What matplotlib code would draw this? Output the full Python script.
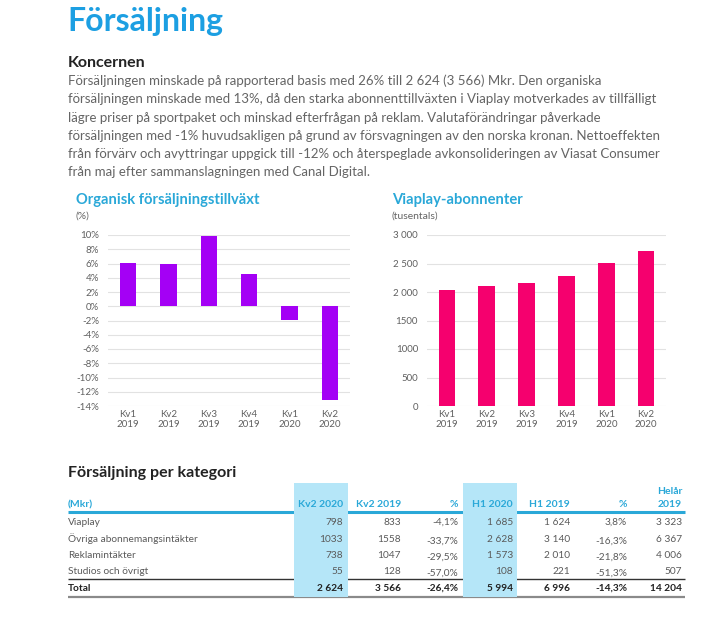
import matplotlib
matplotlib.use("Agg")
import matplotlib.pyplot as plt

plt.rcParams['font.family'] = ['Lato', 'DejaVu Sans']

# ---------------- data ----------------
quarters = ["Kv1\n2019", "Kv2\n2019", "Kv3\n2019", "Kv4\n2019", "Kv1\n2020", "Kv2\n2020"]
organic_growth = [6.1, 5.9, 9.8, 4.5, -1.9, -13.1]
growth_ticks = [-14, -12, -10, -8, -6, -4, -2, 0, 2, 4, 6, 8, 10]
subscribers = [2035, 2110, 2150, 2275, 2510, 2715]
sub_ticks = [0, 500, 1000, 1500, 2000, 2500, 3000]
sub_tick_labels = ["0", "500", "1000", "1500", "2 000", "2 500", "3 000"]

paragraph = [
    "Försäljningen minskade på rapporterad basis med 26% till 2 624 (3 566) Mkr. Den organiska",
    "försäljningen minskade med 13%, då den starka abonnenttillväxten i Viaplay motverkades av tillfälligt",
    "lägre priser på sportpaket och minskad efterfrågan på reklam. Valutaförändringar påverkade",
    "försäljningen med -1% huvudsakligen på grund av försvagningen av den norska kronan. Nettoeffekten",
    "från förvärv och avyttringar uppgick till -12% och återspeglade avkonsolideringen av Viasat Consumer",
    "från maj efter sammanslagningen med Canal Digital.",
]

row_labels = ["Viaplay", "Övriga abonnemangsintäkter", "Reklamintäkter", "Studios och övrigt", "Total"]
col_headers = ["Kv2 2020", "Kv2 2019", "%", "H1 2020", "H1 2019", "%", "Helår\n2019"]
kv2_2020 = ["798", "1033", "738", "55", "2 624"]
kv2_2019 = ["833", "1558", "1047", "128", "3 566"]
kv2_pct = ["-4,1%", "-33,7%", "-29,5%", "-57,0%", "-26,4%"]
h1_2020 = ["1 685", "2 628", "1 573", "108", "5 994"]
h1_2019 = ["1 624", "3 140", "2 010", "221", "6 996"]
h1_pct = ["3,8%", "-16,3%", "-21,8%", "-51,3%", "-14,3%"]
helar_2019 = ["3 323", "6 367", "4 006", "507", "14 204"]
table_columns = [kv2_2020, kv2_2019, kv2_pct, h1_2020, h1_2019, h1_pct, helar_2019]

# ---------------- styles ----------------
BLUE_TITLE = "#1c9fe2"
BLUE = "#2aa8d8"
HILITE = "#b5e6f8"
PURPLE = "#a400f5"
PINK = "#f5006e"
TXT = "#656565"
DARK = "#222222"
GRID = "#e2e2e2"

W, H = 720, 618
fig = plt.figure(figsize=(W / 100, H / 100), dpi=100)
fig.patch.set_facecolor("white")

bg = fig.add_axes([0, 0, 1, 1])
bg.set_xlim(0, W)
bg.set_ylim(H, 0)
bg.axis("off")


def axes_px(l, t, r, b):
    return fig.add_axes([l / W, 1 - b / H, (r - l) / W, (b - t) / H])


# ---------------- header text ----------------
bg.text(67, 31, "Försäljning", fontsize=23, fontweight="bold", color=BLUE_TITLE, va="baseline", ha="left")
bg.text(68, 67, "Koncernen", fontsize=11.5, fontweight="bold", color=DARK, va="baseline", ha="left")
for i, line in enumerate(paragraph):
    bg.text(68, 85 + i * 18.3, line, fontsize=9.5, color=TXT, va="baseline", ha="left")

# ---------------- chart titles ----------------
bg.text(76, 204, "Organisk försäljningstillväxt", fontsize=10.6, fontweight="bold", color=BLUE, va="baseline")
bg.text(76, 219, "(%)", fontsize=7.5, color=TXT, va="baseline")
bg.text(392, 204, "Viaplay-abonnenter", fontsize=10.6, fontweight="bold", color=BLUE, va="baseline")
bg.text(392, 219, "(tusentals)", fontsize=7.5, color=TXT, va="baseline")


def style_axis(ax):
    for s in ax.spines.values():
        s.set_visible(False)
    ax.tick_params(axis="both", length=0, labelsize=7, labelcolor="#606060")
    ax.tick_params(axis="y", pad=6.5)
    ax.tick_params(axis="x", pad=3)
    ax.grid(axis="y", color=GRID, linewidth=0.8)
    ax.set_axisbelow(True)
    ax.set_facecolor("none")
    ax.set_xlim(-0.5, len(quarters) - 0.5)
    ax.set_xticks(range(len(quarters)))
    ax.set_xticklabels(quarters, linespacing=1.15)


# left chart
ax1 = axes_px(108, 235, 350, 406)
ax1.bar(range(len(quarters)), organic_growth, width=0.4, color=PURPLE)
ax1.set_ylim(-14, 10)
ax1.set_yticks(growth_ticks)
ax1.set_yticklabels([f"{t}%" for t in growth_ticks])
style_axis(ax1)

# right chart
ax2 = axes_px(427, 235, 666, 406)
ax2.bar(range(len(quarters)), subscribers, width=0.42, color=PINK)
ax2.set_ylim(0, 3000)
ax2.set_yticks(sub_ticks)
ax2.set_yticklabels(sub_tick_labels)
style_axis(ax2)

# ---------------- table ----------------
bg.text(68, 477, "Försäljning per kategori", fontsize=11.5, fontweight="bold", color=DARK, va="baseline")

col_right = [343, 401, 458, 513, 570, 627, 682]
highlight_cols = [(294, 348), (463, 517)]

bg.plot([68, 685], [512, 512], color=BLUE, linewidth=2.2, solid_capstyle="butt", zorder=1)
bg.plot([68, 685], [579, 579], color="#333333", linewidth=1.0, solid_capstyle="butt", zorder=1)
bg.plot([68, 685], [596.5, 596.5], color="#8a8a8a", linewidth=1.6, solid_capstyle="butt", zorder=1)
for (x0, x1) in highlight_cols:
    bg.add_patch(plt.Rectangle((x0, 483), x1 - x0, 114, facecolor=HILITE, edgecolor="none", zorder=2))

bg.text(68, 507, "(Mkr)", fontsize=7.5, fontweight="bold", color=BLUE, va="baseline", zorder=3)
for j, hdr in enumerate(col_headers):
    bg.text(col_right[j], 507, hdr, fontsize=7.5, fontweight="bold", color=BLUE, va="baseline",
            ha="right", multialignment="right", linespacing=1.55, zorder=3)

row_y = [525, 542, 558, 574, 591]
for i, lab in enumerate(row_labels):
    is_total = lab == "Total"
    w = "bold" if is_total else "normal"
    c = DARK if is_total else "#5a5a5a"
    bg.text(68, row_y[i], lab, fontsize=7.3, fontweight=w, color=c, va="baseline", zorder=3)
    for j, col in enumerate(table_columns):
        dy = 2 if (j in (2, 5) and 0 < i < 4) else 0
        bg.text(col_right[j], row_y[i] + dy, col[i], fontsize=7.3, fontweight=w, color=c,
                va="baseline", ha="right", zorder=3)

fig.savefig("out.png", dpi=100, facecolor="white")
